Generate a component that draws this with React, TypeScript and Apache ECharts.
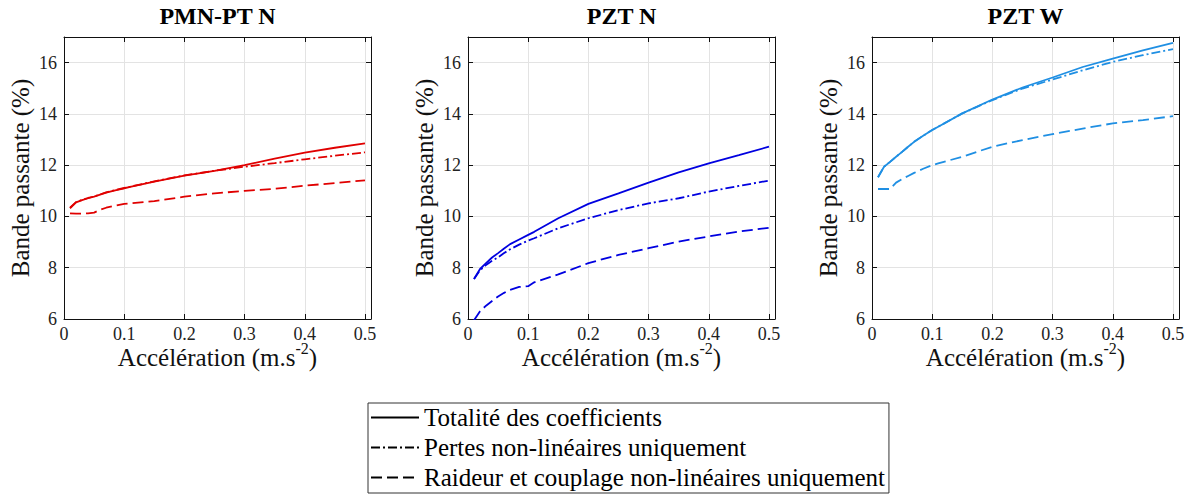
import React, { useEffect, useRef } from "react";
import * as echarts from "echarts";

// Shared acceleration samples (m.s^-2)
const accel = [0.01, 0.02, 0.03, 0.04, 0.05, 0.06, 0.07, 0.085, 0.1, 0.11, 0.15, 0.2, 0.25, 0.3, 0.35, 0.4, 0.45, 0.5];

const panelTitles = ["PMN-PT N", "PZT N", "PZT W"];
const panelColors = ["#e00000", "#0000e0", "#1f8fe3"];
const legendNames = [
  "Totalité des coefficients",
  "Pertes non-linéaires uniquement",
  "Raideur et couplage non-linéaires uniquement",
];

// PMN-PT N
const pmnTotal = [10.32, 10.55, 10.64, 10.71, 10.77, 10.85, 10.93, 11.02, 11.1, 11.15, 11.36, 11.59, 11.78, 12.0, 12.26, 12.49, 12.68, 12.85];
const pmnPertes = [10.34, 10.56, 10.65, 10.72, 10.78, 10.86, 10.94, 11.03, 11.11, 11.16, 11.37, 11.6, 11.78, 11.94, 12.08, 12.23, 12.37, 12.5];
const pmnRaideur = [10.12, 10.11, 10.11, 10.12, 10.15, 10.26, 10.34, 10.42, 10.49, 10.51, 10.6, 10.77, 10.9, 11.0, 11.08, 11.2, 11.3, 11.41];

// PZT N
const pztnTotal = [7.56, 7.95, 8.18, 8.4, 8.57, 8.75, 8.92, 9.1, 9.28, 9.4, 9.93, 10.49, 10.9, 11.32, 11.72, 12.07, 12.39, 12.72];
const pztnPertes = [7.56, 7.9, 8.11, 8.27, 8.41, 8.57, 8.72, 8.9, 9.06, 9.15, 9.54, 9.93, 10.25, 10.51, 10.71, 10.97, 11.19, 11.4];
const pztnRaideur = [5.95, 6.3, 6.52, 6.7, 6.88, 7.02, 7.14, 7.25, 7.28, 7.43, 7.74, 8.18, 8.5, 8.76, 9.02, 9.22, 9.41, 9.56];

// PZT W
const pztwTotal = [11.53, 11.94, 12.13, 12.33, 12.52, 12.72, 12.91, 13.15, 13.37, 13.5, 14.02, 14.56, 15.03, 15.42, 15.83, 16.16, 16.48, 16.77];
const pztwPertes = [11.53, 11.94, 12.13, 12.33, 12.52, 12.72, 12.91, 13.15, 13.37, 13.5, 14.02, 14.54, 14.99, 15.34, 15.7, 16.03, 16.29, 16.53];
const pztwRaideur = [11.07, 11.07, 11.07, 11.32, 11.46, 11.58, 11.7, 11.86, 12.0, 12.07, 12.33, 12.72, 12.98, 13.21, 13.43, 13.63, 13.76, 13.91];

const panelData = [
  [pmnTotal, pmnPertes, pmnRaideur],
  [pztnTotal, pztnPertes, pztnRaideur],
  [pztwTotal, pztwPertes, pztwRaideur],
];

const xTicks = [0, 0.1, 0.2, 0.3, 0.4, 0.5];
const yTicks = [6, 8, 10, 12, 14, 16];

const FONT = "Times New Roman, Liberation Serif, DejaVu Serif, serif";
const dashStyles: any[] = ["solid", [9, 3, 2, 3], [11, 5]];

const gridLefts = [64, 468, 872];
const GRID_TOP = 37;
const GRID_W = 307;
const GRID_H = 282;

export default function App() {
  const ref = useRef<HTMLDivElement>(null);

  useEffect(() => {
    if (!ref.current) return;
    const chart = echarts.init(ref.current, null, { renderer: "svg" });

    const grids = gridLefts.map((l) => ({ left: l, top: GRID_TOP, width: GRID_W, height: GRID_H }));

    const xAxes: any[] = [];
    const yAxes: any[] = [];
    gridLefts.forEach((_, i) => {
      xAxes.push({
        type: "value",
        gridIndex: i,
        min: 0,
        max: 0.51,
        interval: 0.1,
        position: "bottom",
        name: "{m|Accélération (m.s}{s|-2}{m|)}",
        nameLocation: "middle",
        nameGap: 21,
        nameMoveOverlap: false,
        nameTextStyle: {
          fontFamily: FONT,
          rich: {
            m: { fontFamily: FONT, fontSize: 25, color: "#111", lineHeight: 30, verticalAlign: "bottom" },
            s: { fontFamily: FONT, fontSize: 16, color: "#111", lineHeight: 10, verticalAlign: "top" },
          },
        },
        axisLine: { show: true, onZero: false, lineStyle: { color: "#111", width: 1 } },
        axisTick: { show: true, inside: true, length: 5, lineStyle: { color: "#111" } },
        axisLabel: {
          fontFamily: FONT,
          fontSize: 18,
          lineHeight: 8,
          color: "#222",
          margin: 11,
          formatter: (v: number) => (xTicks.some((t) => Math.abs(t - v) < 1e-9) ? String(v) : ""),
        },
        splitLine: { show: true, lineStyle: { color: "#e3e3e3", width: 1 } },
      });
      xAxes.push({
        type: "value",
        gridIndex: i,
        min: 0,
        max: 0.51,
        interval: 0.1,
        position: "top",
        axisLine: { show: true, onZero: false, lineStyle: { color: "#111", width: 1 } },
        axisTick: { show: true, inside: true, length: 5, lineStyle: { color: "#111" } },
        axisLabel: { show: false },
        splitLine: { show: false },
      });
      yAxes.push({
        type: "value",
        gridIndex: i,
        min: 6,
        max: 17,
        interval: 2,
        position: "left",
        name: "Bande passante (%)",
        nameLocation: "middle",
        nameGap: 31,
        nameMoveOverlap: false,
        nameTextStyle: { fontFamily: FONT, fontSize: 25, color: "#111" },
        axisLine: { show: true, onZero: false, lineStyle: { color: "#111", width: 1 } },
        axisTick: { show: true, inside: true, length: 5, lineStyle: { color: "#111" } },
        axisLabel: {
          fontFamily: FONT,
          fontSize: 18,
          color: "#222",
          margin: 7,
          formatter: (v: number) => (yTicks.includes(v) ? String(v) : ""),
        },
        splitLine: { show: true, lineStyle: { color: "#e3e3e3", width: 1 } },
      });
      yAxes.push({
        type: "value",
        gridIndex: i,
        min: 6,
        max: 17,
        interval: 2,
        position: "right",
        axisLine: { show: true, onZero: false, lineStyle: { color: "#111", width: 1 } },
        axisTick: { show: true, inside: true, length: 5, lineStyle: { color: "#111" } },
        axisLabel: { show: false },
        splitLine: { show: false },
      });
    });

    const series: any[] = [];
    panelData.forEach((sets, p) => {
      sets.forEach((vals, k) => {
        series.push({
          type: "line",
          name: panelTitles[p] + " - " + legendNames[k],
          xAxisIndex: p * 2,
          yAxisIndex: p * 2,
          data: accel.map((x, j) => [x, vals[j]]),
          showSymbol: false,
          symbol: "none",
          smooth: false,
          clip: true,
          lineStyle: { color: panelColors[p], width: 1.8, type: dashStyles[k] },
          itemStyle: { color: panelColors[p] },
          z: 5 - k,
        });
      });
    });
    // Legend entries (black)
    legendNames.forEach((n, k) => {
      series.push({
        type: "line",
        name: n,
        xAxisIndex: 0,
        yAxisIndex: 0,
        data: [],
        symbol: "none",
        symbolSize: 0,
        lineStyle: { color: "#000", width: 1.2, type: dashStyles[k] },
        itemStyle: { color: "#000" },
      });
    });

    chart.setOption({
      animation: false,
      backgroundColor: "#ffffff",
      textStyle: { fontFamily: FONT },
      title: panelTitles.map((t, i) => ({
        text: t,
        left: gridLefts[i] + GRID_W / 2,
        textAlign: "center",
        top: 4,
        padding: 0,
        textStyle: { fontFamily: FONT, fontSize: 24, fontWeight: "bold", color: "#000" },
      })),
      grid: grids,
      xAxis: xAxes,
      yAxis: yAxes,
      legend: {
        data: legendNames,
        orient: "vertical",
        left: 368,
        top: 403,
        itemWidth: 48,
        itemHeight: 14,
        itemGap: 5,
        itemTextGap: 2,
        padding: [2, 4, 3, 2],
        borderColor: "#333",
        borderWidth: 1,
        selectedMode: false,
        itemStyle: { opacity: 0, color: "transparent", borderWidth: 0 },
        textStyle: { fontFamily: FONT, fontSize: 25, color: "#000" },
      },
      series,
    });

    return () => chart.dispose();
  }, []);

  return (
    <div
      ref={ref}
      style={{ position: "absolute", left: 0, top: 0, width: 1191, height: 496, background: "#fff" }}
    />
  );
}
